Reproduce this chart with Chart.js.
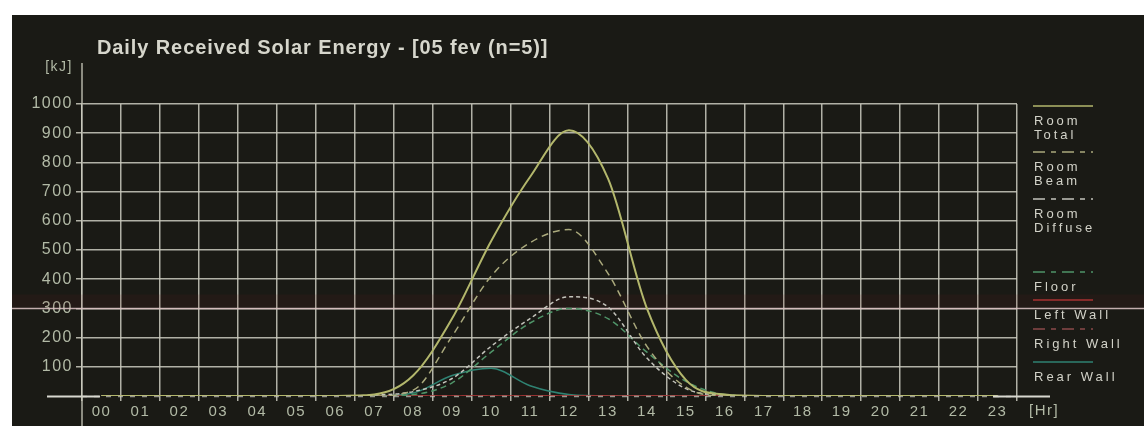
<!DOCTYPE html>
<html>
<head>
<meta charset="utf-8">
<title>Daily Received Solar Energy</title>
<script src="https://cdn.jsdelivr.net/npm/chart.js@4.4.1/dist/chart.umd.min.js"></script>
<style>
  html, body { margin: 0; padding: 0; background: #ffffff; width: 1144px; height: 426px; overflow: hidden; }
  #panel { position: absolute; left: 12px; top: 15px; width: 1132px; height: 411px; background: #1a1a15; }
  canvas { display: block; }
</style>
</head>
<body>
<div id="panel"><canvas id="chart" width="1132" height="411"></canvas></div>
<script>
// Hour categories (x axis) and value ticks (y axis, kJ)
const hours = ['00','01','02','03','04','05','06','07','08','09','10','11',
               '12','13','14','15','16','17','18','19','20','21','22','23'];
const yTicks = [0, 100, 200, 300, 400, 500, 600, 700, 800, 900, 1000];

// Received energy per hour, kJ
const roomTotal   = [0,0,0,0,0,0,0, 5, 70,265,530,750,910,745,300, 55,  5,0,0,0,0,0,0,0];
const roomBeam    = [0,0,0,0,0,0,0, 0, 20,205,410,525,570,420,170, 30,  0,0,0,0,0,0,0,0];
const roomDiffuse = [0,0,0,0,0,0,0, 3, 15, 60,170,265,340,305,130, 25,  3,0,0,0,0,0,0,0];
const floorE      = [0,0,0,0,0,0,0, 0,  5, 45,150,250,300,265,150, 50,  5,0,0,0,0,0,0,0];
const leftWall    = [0,0,0,0,0,0,0, 0,  0,  0,  0,  0,  0,  0,  0,  0,  0,0,0,0,0,0,0,0];
const rightWall   = [0,0,0,0,0,0,0, 0,  0,  0,  0,  0,  0,  0,  0,  0,  0,0,0,0,0,0,0,0];
const rearWall    = [0,0,0,0,0,0,0, 0, 10, 70, 95, 35,  5,  0,  0,  0,  0,0,0,0,0,0,0,0];

const TITLE = 'Daily Received Solar Energy - [05 fev (n=5)]';
const Y_UNIT = '[kJ]';
const X_UNIT = '[Hr]';

const FONT = '"Liberation Sans", Arial, sans-serif';
const GRID = 'rgba(205,205,192,0.85)';
const TICK = '#b2baa6';
const TEXT = '#d2d2c8';

// Series definitions: label lines (as shown in the side legend) and line style
const series = [
  { lines: ['Room', 'Total'],   data: roomTotal,   color: '#b3b76c', dash: [],        width: 2 },
  { lines: ['Room', 'Beam'],    data: roomBeam,    color: '#aaa97c', dash: [7, 5],    width: 1.5 },
  { lines: ['Room', 'Diffuse'], data: roomDiffuse, color: '#c4c4bc', dash: [4, 3],    width: 1.5 },
  { lines: ['Floor'],           data: floorE,      color: '#4f9468', dash: [6, 4],    width: 1.5 },
  { lines: ['Left Wall'],       data: leftWall,    color: '#a83232', dash: [],        width: 1.5 },
  { lines: ['Right Wall'],      data: rightWall,   color: '#8a4a4a', dash: [6, 4],    width: 1.5 },
  { lines: ['Rear Wall'],       data: rearWall,    color: '#2f8272', dash: [],        width: 1.5 }
];

// Vertical offset of each legend sample line from the top of the plot area
const legendOffsets = [2, 48, 95, 168, 196, 225, 258];

const decor = {
  id: 'decor',
  beforeDraw(chart) {
    // slightly spaced lettering for the axis tick labels
    chart.ctx.letterSpacing = '1.5px';
  },
  beforeDatasetsDraw(chart) {
    const { ctx, scales } = chart;
    const y300 = Math.round(scales.y.getPixelForValue(300)) + 0.5;
    ctx.save();
    // faint reddish band above the 300 line and the line itself across the panel
    ctx.fillStyle = 'rgba(110,30,30,0.12)';
    ctx.fillRect(0, y300 - 14, chart.width, 13);
    ctx.strokeStyle = 'rgba(215,190,190,0.9)';
    ctx.lineWidth = 1.5;
    ctx.beginPath();
    ctx.moveTo(0, y300);
    ctx.lineTo(chart.width, y300);
    ctx.stroke();
    ctx.restore();
  },
  afterDatasetsDraw(chart) {
    const { ctx, chartArea, scales } = chart;
    const L = chartArea.left, R = chartArea.right;
    const y0 = Math.round(scales.y.getPixelForValue(0)) + 0.5;
    ctx.save();

    // zero line: dashed inside the plot, solid where it runs past the edges
    ctx.strokeStyle = 'rgba(205,205,195,0.7)';
    ctx.lineWidth = 1.5;
    ctx.setLineDash([5, 7]);
    ctx.beginPath(); ctx.moveTo(L, y0); ctx.lineTo(R, y0); ctx.stroke();
    ctx.setLineDash([]);
    ctx.strokeStyle = '#d8d8d0';
    ctx.lineWidth = 2;
    ctx.beginPath();
    ctx.moveTo(L - 35, y0); ctx.lineTo(L + 18, y0);
    ctx.moveTo(R - 24, y0); ctx.lineTo(R + 33, y0);
    ctx.stroke();

    // y axis continues above and below the plot
    ctx.strokeStyle = GRID;
    ctx.lineWidth = 1.5;
    ctx.beginPath();
    ctx.moveTo(L, chartArea.top - 41); ctx.lineTo(L, chartArea.top);
    ctx.moveTo(L, chartArea.bottom); ctx.lineTo(L, chart.height);
    ctx.stroke();

    // title
    ctx.fillStyle = '#d6d6cc';
    ctx.font = 'bold 20px ' + FONT;
    ctx.letterSpacing = '0.9px';
    ctx.textBaseline = 'middle';
    ctx.textAlign = 'left';
    ctx.fillText(TITLE, L + 15, 33);

    // axis units
    ctx.fillStyle = TICK;
    ctx.letterSpacing = '1.5px';
    ctx.font = '14px ' + FONT;
    ctx.textAlign = 'right';
    ctx.fillText(Y_UNIT, L - 9, chartArea.top - 37);
    ctx.font = '15px ' + FONT;
    ctx.textAlign = 'left';
    ctx.fillText(X_UNIT, R + 12, chartArea.bottom + 15);

    // side legend: sample line with the label written underneath
    ctx.font = '13px ' + FONT;
    ctx.letterSpacing = '3px';
    ctx.textBaseline = 'middle';
    series.forEach((s, i) => {
      const ys = chartArea.top + legendOffsets[i];
      ctx.strokeStyle = s.color;
      ctx.lineWidth = 1.5;
      ctx.setLineDash(s.dash.length ? [12, 6, 5, 6] : []);
      ctx.beginPath(); ctx.moveTo(R + 16, ys); ctx.lineTo(R + 76, ys); ctx.stroke();
      ctx.setLineDash([]);
      ctx.fillStyle = TEXT;
      s.lines.forEach((t, k) => ctx.fillText(t, R + 17, ys + 15 + k * 14));
    });
    ctx.restore();
  },
  afterDraw(chart) {
    chart.ctx.letterSpacing = '0px';
  }
};

new Chart(document.getElementById('chart'), {
  type: 'line',
  data: {
    labels: hours,
    datasets: series.map(s => ({
      label: s.lines.join(' '),
      data: s.data,
      borderColor: s.color,
      borderDash: s.dash,
      borderWidth: s.width,
      fill: false,
      pointRadius: 0,
      cubicInterpolationMode: 'monotone'
    }))
  },
  options: {
    responsive: false,
    animation: false,
    layout: { padding: { top: 89, right: 127, left: 0, bottom: 0 } },
    plugins: { legend: { display: false }, tooltip: { enabled: false }, title: { display: false } },
    scales: {
      x: {
        type: 'category',
        offset: true,
        grid: { offset: true, color: GRID, lineWidth: 1.5, tickLength: 5 },
        border: { display: false },
        ticks: { color: TICK, font: { family: FONT, size: 15 }, padding: 2, maxRotation: 0, autoSkip: false },
        afterFit(s) { s.height = 30; }
      },
      y: {
        min: 0, max: 1000,
        afterBuildTicks(s) { s.ticks = yTicks.map(v => ({ value: v })); },
        grid: {
          color: c => (c.tick && c.tick.value === 0) ? 'rgba(0,0,0,0)' : GRID,
          lineWidth: 1.5, tickLength: 6
        },
        border: { display: true, color: GRID, width: 1.5 },
        ticks: { color: TICK, font: { family: FONT, size: 16 }, padding: 3,
                 callback: v => v === 0 ? '' : String(v) },
        afterFit(s) { s.width = 70; }
      }
    }
  },
  plugins: [decor]
});
</script>
</body>
</html>
